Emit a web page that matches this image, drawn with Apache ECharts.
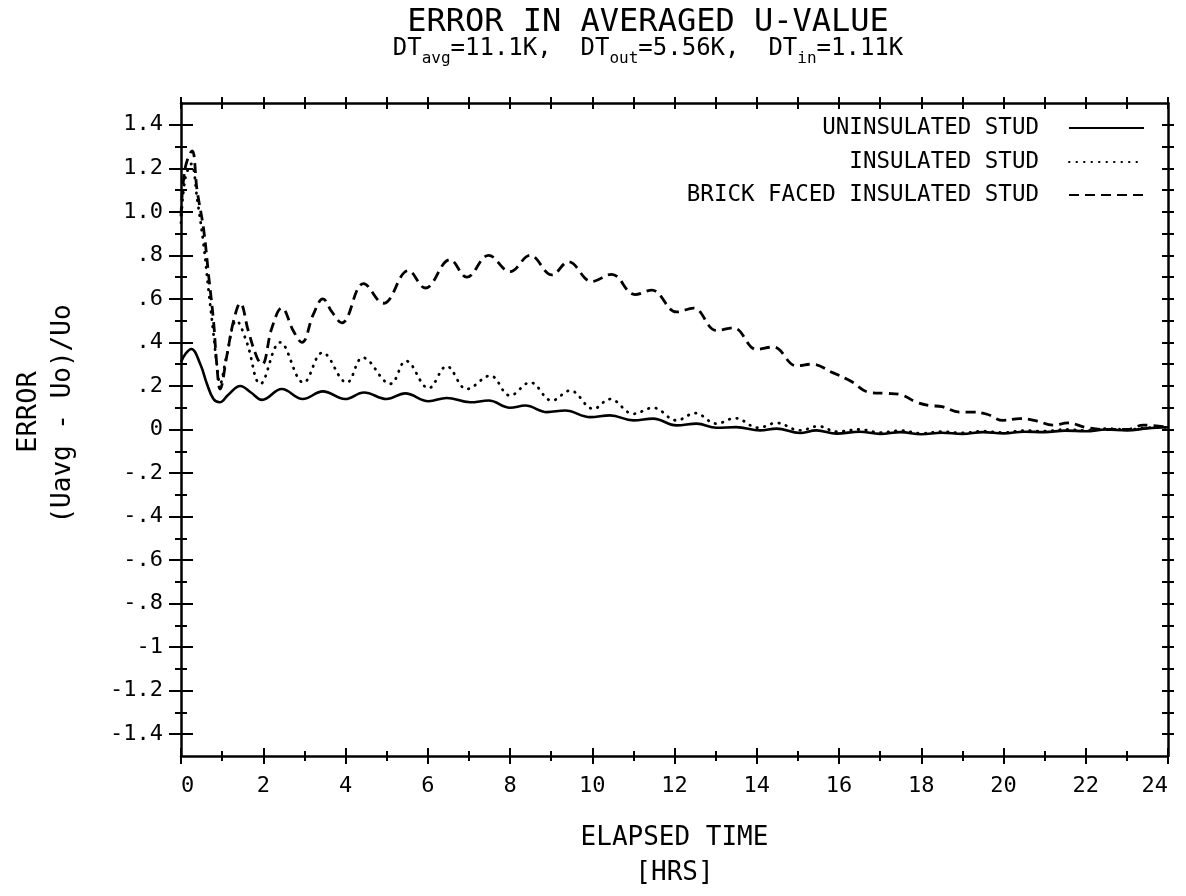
<!DOCTYPE html>
<html>
<head>
<meta charset="utf-8">
<script src="https://cdn.jsdelivr.net/npm/echarts@6/dist/echarts.min.js"></script>
<style>
html,body{margin:0;padding:0;background:#fff;}
#chart{width:1186px;height:896px;}
</style>
</head>
<body>
<div id="chart"></div>
<script>
// ---------- data ----------
var seriesNames = ['UNINSULATED STUD', 'INSULATED STUD', 'BRICK FACED INSULATED STUD'];

var uninsHours = [0, 0.12, 0.25, 0.47, 0.63, 0.79, 0.94, 1.15, 1.44, 1.7, 1.97, 2.45, 2.96, 3.45, 3.99, 4.45, 5.0, 5.45, 6.02, 6.46, 7.03, 7.48, 8.0, 8.37, 8.9, 9.34, 9.95, 10.43, 11.0, 11.48, 12.05, 12.54, 13.02, 13.5, 14.08, 14.48, 15.05, 15.45, 15.94, 16.5, 17.0, 17.5, 18.0, 18.5, 19.0, 19.5, 20.0, 20.5, 21.0, 21.5, 22.0, 22.5, 23.0, 23.5, 24.0];
var uninsValues = [0.31, 0.35, 0.37, 0.30, 0.21, 0.14, 0.125, 0.16, 0.20, 0.17, 0.136, 0.186, 0.14, 0.175, 0.14, 0.17, 0.14, 0.166, 0.13, 0.145, 0.125, 0.133, 0.10, 0.11, 0.08, 0.087, 0.057, 0.065, 0.042, 0.05, 0.019, 0.027, 0.008, 0.011, -0.004, 0.004, -0.016, -0.004, -0.019, -0.01, -0.02, -0.012, -0.022, -0.015, -0.02, -0.012, -0.018, -0.01, -0.012, -0.005, -0.008, 0.0, -0.004, 0.005, 0.01];

var insHours = [0, 0.1, 0.25, 0.4, 0.55, 0.67, 0.79, 0.87, 0.95, 1.1, 1.35, 1.6, 1.93, 2.41, 2.98, 3.44, 4.03, 4.42, 5.09, 5.47, 6.02, 6.46, 6.95, 7.52, 8.0, 8.49, 9.02, 9.46, 10.03, 10.43, 11.0, 11.48, 12.05, 12.5, 13.02, 13.47, 14.04, 14.48, 15.05, 15.5, 15.94, 16.5, 17.0, 17.5, 18.0, 18.5, 19.0, 19.5, 20.0, 20.5, 21.0, 21.5, 22.0, 22.5, 23.0, 23.5, 24.0];
var insValues = [0.95, 1.15, 1.22, 1.05, 0.85, 0.64, 0.44, 0.30, 0.21, 0.33, 0.50, 0.40, 0.21, 0.40, 0.216, 0.353, 0.216, 0.33, 0.21, 0.315, 0.19, 0.29, 0.186, 0.247, 0.156, 0.216, 0.133, 0.179, 0.095, 0.14, 0.072, 0.10, 0.042, 0.075, 0.027, 0.052, 0.008, 0.03, -0.004, 0.015, -0.01, 0.0, -0.014, -0.005, -0.018, -0.01, -0.016, -0.008, -0.014, -0.005, -0.008, 0.0, -0.004, 0.004, 0.0, 0.008, 0.01];

var brickHours = [0, 0.1, 0.27, 0.39, 0.55, 0.67, 0.79, 0.87, 0.95, 1.12, 1.28, 1.44, 1.64, 1.85, 1.97, 2.21, 2.45, 2.74, 2.94, 3.22, 3.45, 3.67, 3.91, 4.44, 4.92, 5.53, 5.94, 6.54, 6.95, 7.48, 8.0, 8.49, 9.02, 9.42, 9.99, 10.47, 11.04, 11.45, 12.05, 12.46, 13.02, 13.43, 14.0, 14.4, 14.97, 15.33, 15.86, 16.27, 16.75, 17.16, 17.5, 17.89, 18.21, 18.5, 18.94, 19.26, 19.6, 19.99, 20.4, 20.8, 21.2, 21.57, 22.0, 22.5, 23.0, 23.4, 24.0];
var brickValues = [0.98, 1.2, 1.28, 1.10, 0.92, 0.71, 0.50, 0.30, 0.186, 0.345, 0.50, 0.58, 0.45, 0.33, 0.30, 0.467, 0.558, 0.45, 0.40, 0.53, 0.60, 0.54, 0.49, 0.67, 0.58, 0.73, 0.65, 0.78, 0.70, 0.80, 0.725, 0.80, 0.71, 0.77, 0.68, 0.713, 0.62, 0.64, 0.54, 0.558, 0.455, 0.467, 0.368, 0.379, 0.292, 0.30, 0.26, 0.224, 0.17, 0.166, 0.16, 0.125, 0.11, 0.105, 0.08, 0.08, 0.07, 0.042, 0.05, 0.04, 0.02, 0.03, 0.01, 0.0, 0.0, 0.02, 0.01];

var yMajorValues = [-1.4, -1.2, -1.0, -0.8, -0.6, -0.4, -0.2, 0, 0.2, 0.4, 0.6, 0.8, 1.0, 1.2, 1.4];
var yMajorLabels = ['-1.4', '-1.2', '-1', '-.8', '-.6', '-.4', '-.2', '0', '.2', '.4', '.6', '.8', '1.0', '1.2', '1.4'];
var yMinorValues = [-1.3, -1.1, -0.9, -0.7, -0.5, -0.3, -0.1, 0.1, 0.3, 0.5, 0.7, 0.9, 1.1, 1.3];
var yRightValues = [-1.4, -1.3, -1.2, -1.1, -1.0, -0.9, -0.8, -0.7, -0.6, -0.5, -0.4, -0.3, -0.2, -0.1, 0, 0.1, 0.2, 0.3, 0.4, 0.5, 0.6, 0.7, 0.8, 0.9, 1.0, 1.1, 1.2, 1.3, 1.4];

function pairs(xs, ys) { return xs.map(function (x, i) { return [x, ys[i]]; }); }

// ---------- chart ----------
var FONT = 'DejaVu Sans Mono';
var INK = '#000';
var chart = echarts.init(document.getElementById('chart'), null, { renderer: 'canvas' });

function xAx(pos, inside, interval, withLine, len, minor) {
  return {
    type: 'value', position: pos, min: 0, max: 24, interval: interval,
    axisLine: { show: withLine, onZero: false, lineStyle: { color: INK, width: 2.5 } },
    axisTick: { show: true, inside: inside, length: len, lineStyle: { color: INK, width: 2 } },
    minorTick: { show: !!minor, splitNumber: 2, length: 5, lineStyle: { color: INK, width: 2 } },
    splitLine: { show: false }, minorSplitLine: { show: false },
    axisLabel: { show: false }
  };
}
function yAx(pos, inside, values, withLine, len) {
  return {
    type: 'value', position: pos, min: -1.5, max: 1.5,
    axisLine: { show: withLine, onZero: false, lineStyle: { color: INK, width: 2.5 } },
    axisTick: { show: true, inside: inside, length: len, customValues: values, lineStyle: { color: INK, width: 2 } },
    splitLine: { show: false },
    axisLabel: { show: false }
  };
}

var xMain = xAx('bottom', false, 2, true, 8, true);
xMain.axisLabel = {
  show: true, color: INK, fontFamily: FONT, fontSize: 22, margin: 19,
  alignMinLabel: 'left', alignMaxLabel: 'right'
};
xMain.name = 'ELAPSED TIME\n[HRS]';
xMain.nameLocation = 'middle';
xMain.nameGap = 65;
xMain.nameTextStyle = { color: INK, fontFamily: FONT, fontSize: 26, lineHeight: 35 };

var yMain = yAx('left', false, yMajorValues, true, 12);
yMain.axisLabel = {
  show: true, color: INK, fontFamily: FONT, fontSize: 22, margin: 18,
  customValues: yMajorValues,
  formatter: function (v) {
    for (var i = 0; i < yMajorValues.length; i++) {
      if (Math.abs(yMajorValues[i] - v) < 1e-6) return yMajorLabels[i];
    }
    return '';
  }
};

var option = {
  backgroundColor: '#fff',
  animation: false,
  grid: { left: 181, right: 18, top: 103, bottom: 136, containLabel: false },
  xAxis: [
    xMain,
    xAx('bottom', true, 2, false, 8, true),
    xAx('top', false, 1, true, 6, false),
    xAx('top', true, 1, false, 6, false)
  ],
  yAxis: [
    yMain,
    yAx('left', true, yMajorValues, false, 12),
    yAx('left', false, yMinorValues, false, 6),
    yAx('left', true, yMinorValues, false, 6),
    yAx('right', false, yRightValues, true, 6),
    yAx('right', true, yRightValues, false, 6)
  ],
  legend: [0, 1, 2].map(function (i) {
    return {
      data: [seriesNames[i]], orient: 'vertical', align: 'right',
      right: 41, top: [128, 162, 195][i] - 13, padding: 0,
      itemWidth: 75, itemHeight: 14, selectedMode: false,
      itemStyle: { opacity: 0 },
      textStyle: { color: INK, fontFamily: FONT, fontSize: 22.5, lineHeight: 26, padding: [0, 25, 0, 0] }
    };
  }),
  graphic: [
    { type: 'text', x: 648, y: 23, style: { text: 'ERROR IN AVERAGED U-VALUE', fill: INK, font: '32px "DejaVu Sans Mono"', align: 'center', verticalAlign: 'middle' } },
    { type: 'text', x: 648, y: 52, style: {
        text: '{m|DT}{s|avg}{m|=11.1K,  DT}{s|out}{m|=5.56K,  DT}{s|in}{m|=1.11K}',
        align: 'center', verticalAlign: 'middle',
        rich: {
          m: { fontFamily: FONT, fontSize: 24, fill: INK, lineHeight: 30, verticalAlign: 'top' },
          s: { fontFamily: FONT, fontSize: 16, fill: INK, lineHeight: 16, verticalAlign: 'bottom' }
        }
      } },
    { type: 'text', x: 29, y: 412, rotation: Math.PI / 2, style: { text: 'ERROR', fill: INK, font: '27px "DejaVu Sans Mono"', align: 'center', verticalAlign: 'middle' } },
    { type: 'text', x: 63, y: 414, rotation: Math.PI / 2, style: { text: '(Uavg - Uo)/Uo', fill: INK, font: '26px "DejaVu Sans Mono"', align: 'center', verticalAlign: 'middle' } }
  ],
  series: [
    { name: seriesNames[0], type: 'line', data: pairs(uninsHours, uninsValues), smooth: 0.4, symbol: 'none', showSymbol: false,
      lineStyle: { color: INK, width: 2.6, type: 'solid' }, itemStyle: { color: INK } },
    { name: seriesNames[1], type: 'line', data: pairs(insHours, insValues), smooth: 0.4, symbol: 'none', showSymbol: false,
      lineStyle: { color: INK, width: 2.8, type: [0.5, 7], cap: 'round' }, itemStyle: { color: INK } },
    { name: seriesNames[2], type: 'line', data: pairs(brickHours, brickValues), smooth: 0.4, symbol: 'none', showSymbol: false,
      lineStyle: { color: INK, width: 2.8, type: [10, 6] }, itemStyle: { color: INK } }
  ]
};
chart.setOption(option);
</script>
</body>
</html>
